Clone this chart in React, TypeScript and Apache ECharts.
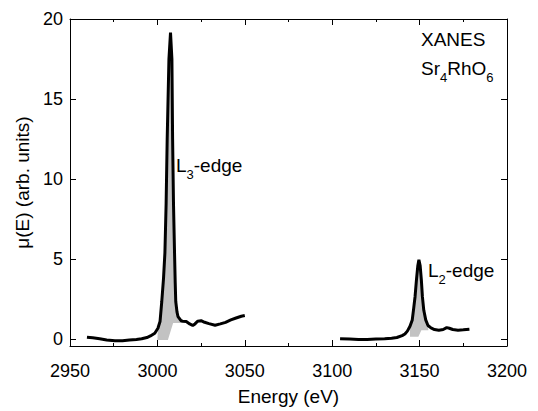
import React, { useEffect, useRef } from "react";
import * as echarts from "echarts";

// L3-edge scan (energy in eV, mu(E) in arb. units)
const l3Energy = [
  2959.7, 2963, 2967, 2971, 2975.7, 2980, 2984, 2988, 2991, 2994, 2996, 2998.5,
  3000.3, 3001.5, 3002.5, 3003.5, 3004.3, 3005, 3005.6, 3006.6, 3007.5, 3008.3,
  3008.7, 3009.2, 3009.8, 3010.2, 3010.5, 3011.2, 3011.8, 3013.5, 3014.5, 3016.5,
  3018.5, 3020.2, 3021.5, 3023, 3025, 3027, 3029.5, 3033, 3036, 3039, 3042, 3045,
  3048, 3050,
];
const l3Mu = [
  0.12, 0.08, 0.02, -0.05, -0.1, -0.1, -0.06, -0.02, 0.02, 0.1, 0.2, 0.37,
  0.68, 1.1, 2.35, 3.8, 5.4, 8.5, 12.5, 17.5, 19.15, 17.5,
  12.5, 8.5, 5.4, 3.5, 2.35, 1.7, 1.4, 1.15, 1.12, 1.1,
  0.95, 0.85, 0.95, 1.12, 1.15, 1.05, 0.97, 0.87, 0.95, 1.05, 1.2, 1.32,
  1.43, 1.48,
];

// L2-edge scan
const l2Energy = [
  3104.5, 3110, 3115, 3120, 3125, 3130, 3134, 3137, 3140, 3141.6, 3143, 3144.5,
  3145.8, 3146.7, 3147.4, 3148.2, 3149, 3149.6, 3150.3, 3151, 3151.6, 3152.4,
  3153.5, 3154.8, 3156.5, 3158.5, 3161, 3163.5, 3165.5, 3167, 3169, 3172, 3175,
  3178.5,
];
const l2Mu = [
  0.02, 0.0, -0.02, -0.02, 0.0, 0.02, 0.05, 0.1, 0.22, 0.32, 0.5, 0.8,
  1.2, 2.0, 2.65, 3.7, 4.6, 4.96, 4.6, 3.7, 2.65, 1.8,
  1.2, 0.85, 0.7, 0.6, 0.55, 0.6, 0.72, 0.68, 0.6, 0.56, 0.58,
  0.62,
];

// edge-step baselines bounding the shaded white-line areas
const l3StepEnergy = [3000, 3006, 3009, 3014];
const l3StepMu = [-0.05, -0.05, 1.0, 1.0];
const l2StepEnergy = [3144.5, 3149.3, 3151, 3155];
const l2StepMu = [0.15, 0.15, 0.55, 0.55];

const yTickValues = [0, 5, 10, 15, 20];

const FONT = "'Liberation Sans', Arial, Helvetica, sans-serif";

function shadePolygon(
  energy: number[],
  mu: number[],
  stepE: number[],
  stepMu: number[]
): number[][] {
  const lo = stepE[0];
  const hi = stepE[stepE.length - 1];
  const pts: number[][] = [[lo, stepMu[0]]];
  energy.forEach((e, i) => {
    if (e >= lo && e <= hi) pts.push([e, mu[i]]);
  });
  for (let i = stepE.length - 1; i >= 0; i--) pts.push([stepE[i], stepMu[i]]);
  return pts;
}

function shadeSeries(poly: number[][]) {
  return {
    type: "custom",
    z: 1,
    silent: true,
    data: poly,
    encode: { x: 0, y: 1 },
    renderItem: (params: any, api: any) => {
      if (params.dataIndex !== 0) return null;
      const points = poly.map((p) => api.coord(p));
      return {
        type: "polygon",
        shape: { points },
        style: { fill: "#c2c2c2", stroke: "none" },
      };
    },
  };
}

const axisCommon = {
  axisLine: { show: true, onZero: false, lineStyle: { color: "#000", width: 1 } },
  splitLine: { show: false },
};

export default function App() {
  const ref = useRef<HTMLDivElement>(null);

  useEffect(() => {
    if (!ref.current) return;
    const chart = echarts.init(ref.current, null, { renderer: "svg" });

    const l3Poly = shadePolygon(l3Energy, l3Mu, l3StepEnergy, l3StepMu);
    const l2Poly = shadePolygon(l2Energy, l2Mu, l2StepEnergy, l2StepMu);

    const xBase = {
      type: "value",
      min: 2950,
      max: 3200,
      interval: 50,
      ...axisCommon,
      axisTick: { show: true, inside: true, length: 6, lineStyle: { color: "#000" } },
      minorTick: { show: true, splitNumber: 2, length: 3, lineStyle: { color: "#000" } },
      minorSplitLine: { show: false },
    };
    const yBase = {
      type: "value",
      min: -0.43,
      max: 20,
      ...axisCommon,
      axisTick: {
        show: true,
        inside: true,
        length: 6,
        customValues: yTickValues,
        lineStyle: { color: "#000" },
      },
    };

    const richText = {
      a: { fontSize: 19, fontFamily: FONT, fill: "#000", lineHeight: 32 },
      s: { fontSize: 13, fontFamily: FONT, fill: "#000", lineHeight: 12, verticalAlign: "bottom" },
    };

    chart.setOption({
      animation: false,
      backgroundColor: "#fff",
      textStyle: { fontFamily: FONT },
      grid: { left: 70, right: 31, top: 19, bottom: 61, containLabel: false },
      xAxis: [
        {
          ...xBase,
          position: "bottom",
          name: "Energy (eV)",
          nameLocation: "middle",
          nameGap: 41,
          nameTextStyle: { fontSize: 19, color: "#000", fontFamily: FONT },
          axisLabel: {
            fontSize: 18,
            color: "#000",
            margin: 16,
            fontFamily: FONT,
            formatter: (v: number) => String(v),
          },
        },
        {
          ...xBase,
          position: "top",
          axisLabel: { show: false },
        },
      ],
      yAxis: [
        {
          ...yBase,
          position: "left",
          name: "\u03bc(E) (arb. units)",
          nameLocation: "middle",
          nameGap: 36,
          nameTextStyle: { fontSize: 19, color: "#000", fontFamily: FONT },
          axisLabel: {
            fontSize: 18,
            color: "#000",
            margin: 7,
            fontFamily: FONT,
            customValues: yTickValues,
            formatter: (v: number) => String(v),
          },
        },
        {
          ...yBase,
          position: "right",
          axisLabel: { show: false },
        },
      ],
      graphic: [
        {
          type: "text",
          x: 421,
          y: 39,
          style: {
            text: "XANES",
            font: `19px ${FONT}`,
            fill: "#000",
            verticalAlign: "middle",
          },
        },
        {
          type: "text",
          x: 421,
          y: 68,
          style: {
            text: "{a|Sr}{s|4}{a|RhO}{s|6}",
            verticalAlign: "middle",
            rich: richText,
          },
        },
        {
          type: "text",
          x: 176,
          y: 165,
          style: {
            text: "{a|L}{s|3}{a|-edge}",
            verticalAlign: "middle",
            rich: richText,
          },
        },
        {
          type: "text",
          x: 428,
          y: 270,
          style: {
            text: "{a|L}{s|2}{a|-edge}",
            verticalAlign: "middle",
            rich: richText,
          },
        },
      ],
      series: [
        shadeSeries(l3Poly),
        shadeSeries(l2Poly),
        {
          type: "line",
          name: "L3",
          z: 3,
          showSymbol: false,
          data: l3Energy.map((e, i) => [e, l3Mu[i]]),
          lineStyle: { color: "#000", width: 3 },
          itemStyle: { color: "#000" },
        },
        {
          type: "line",
          name: "L2",
          z: 3,
          showSymbol: false,
          data: l2Energy.map((e, i) => [e, l2Mu[i]]),
          lineStyle: { color: "#000", width: 3 },
          itemStyle: { color: "#000" },
        },
      ],
    });

    return () => {
      chart.dispose();
    };
  }, []);

  return (
    <div
      ref={ref}
      style={{ position: "fixed", left: 0, top: 0, width: 538, height: 411 }}
    />
  );
}
